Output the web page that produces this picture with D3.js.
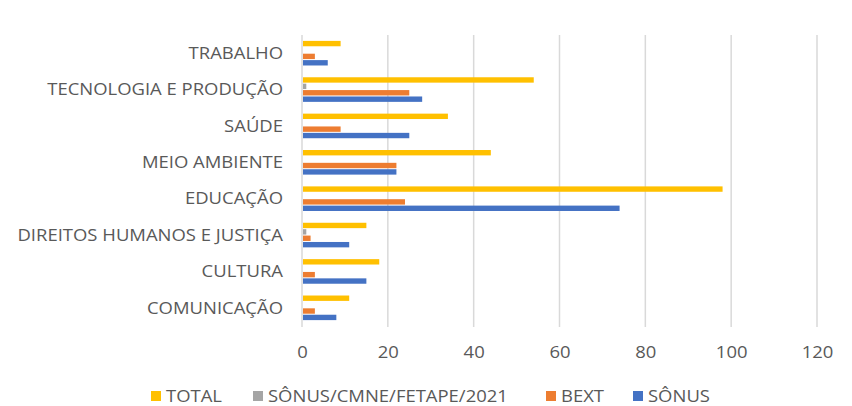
<!DOCTYPE html>
<html><head><meta charset="utf-8">
<script src="https://cdn.jsdelivr.net/npm/d3@7"></script>
<style>
html,body{margin:0;padding:0;background:#fff;}
svg text{font-family:"Open Sans",sans-serif;fill:#595959;}
</style></head>
<body><svg id="c" width="852" height="406"></svg>
<script>
const categories = ["TRABALHO","TECNOLOGIA E PRODUÇÃO","SAÚDE","MEIO AMBIENTE","EDUCAÇÃO","DIREITOS HUMANOS E JUSTIÇA","CULTURA","COMUNICAÇÃO"];
const seriesNames = ["TOTAL","SÔNUS/CMNE/FETAPE/2021","BEXT","SÔNUS"];
const seriesColors = ["#FFC000","#A5A5A5","#ED7D31","#4472C4"];
const totalValues = [9,54,34,44,98,15,18,11];
const cmneValues  = [0,1,0,0,0,1,0,0];
const bextValues  = [3,25,9,22,24,2,3,3];
const sonusValues = [6,28,25,22,74,11,15,8];
const xTicks = [0,20,40,60,80,100,120];

const seriesValues = [totalValues, cmneValues, bextValues, sonusValues];
const svg = d3.select("#c");
const FS = "16px";
const x = d3.scaleLinear().domain([0,120]).range([302,817]);
const y0 = d3.scaleBand().domain(categories).range([35,326]).padding(0);
const y1 = d3.scaleBand().domain(seriesNames).range([0,y0.bandwidth()]).paddingInner(0.16).paddingOuter(0.92);

// measure horizontal stretch factor so text width matches the reference
const probe = svg.append("text").attr("font-size",FS).text("TECNOLOGIA E PRODUÇÃO");
const k = 236 / probe.node().getComputedTextLength();
probe.remove();

// gridlines
svg.append("g").selectAll("line").data(xTicks).join("line")
  .attr("x1",d=>x(d)).attr("x2",d=>x(d)).attr("y1",35).attr("y2",327)
  .attr("stroke","#d9d9d9").attr("stroke-width",1.5);

// tick labels via axis
const ax = svg.append("g").attr("transform","translate(0,352)")
  .call(d3.axisBottom(x).tickValues(xTicks).tickSize(0).tickFormat(d3.format("d")));
ax.select(".domain").remove();
ax.selectAll(".tick text").attr("font-size",FS).attr("fill","#595959").attr("y",0).attr("dy","0.36em")
  .attr("transform",`scale(${k},1)`);

// bars
const rows = categories.map((c,i)=>({c, vals: seriesNames.map((s,j)=>({s, j, v: seriesValues[j][i]}))}));
const grp = svg.append("g").selectAll("g").data(rows).join("g")
  .attr("transform",d=>`translate(0,${y0(d.c)})`);
grp.selectAll("rect").data(d=>d.vals.filter(v=>v.v>0)).join("rect")
  .attr("x",x(0)+1).attr("y",d=>y1(d.s))
  .attr("width",d=>Math.max(0,x(d.v)-x(0)-1)).attr("height",y1.bandwidth())
  .attr("fill",d=>seriesColors[d.j]);

// category labels
const yAx = svg.append("g").attr("transform","translate(283,0)")
  .call(d3.axisLeft(y0).tickSize(0).tickPadding(0));
yAx.select(".domain").remove();
yAx.selectAll(".tick text").attr("font-size",FS).attr("fill","#595959").attr("x",0).attr("dy","0.36em")
  .attr("transform",`scale(${k},1)`);

// legend
const legendX = [151,253,546,633];
const lg = svg.append("g").selectAll("g").data(seriesNames).join("g")
  .attr("transform",(d,i)=>`translate(${legendX[i]},396)`);
lg.append("rect").attr("x",0).attr("y",-5).attr("width",10).attr("height",10)
  .attr("fill",(d,i)=>seriesColors[i]);
lg.append("text").attr("transform",`translate(15,0) scale(${k},1)`).attr("dy","0.36em").attr("font-size",FS)
  .text(d=>d);
</script></body></html>
